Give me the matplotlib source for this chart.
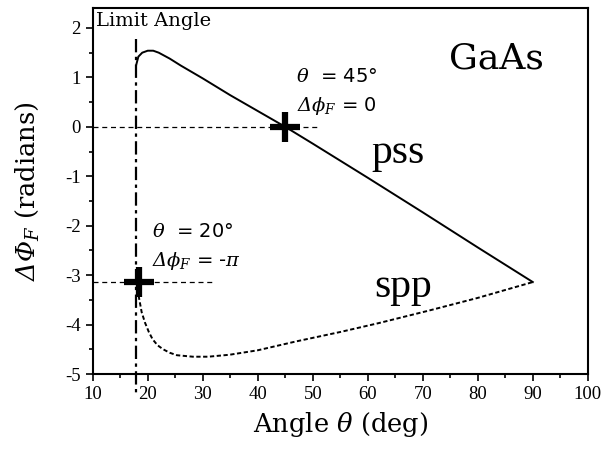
import matplotlib
matplotlib.use("Agg")
import matplotlib.pyplot as plt
from matplotlib.ticker import MultipleLocator

# data
pss_angle = [17.9, 18.3, 19.0, 20.0, 21.0, 22.0, 24.0, 26.0, 28.0, 30.0, 35.0, 40.0, 45.0,
             50.0, 60.0, 70.0, 80.0, 90.0]
pss_phase = [1.25, 1.42, 1.50, 1.54, 1.54, 1.50, 1.38, 1.24, 1.11, 0.98, 0.64, 0.32, 0.0,
             -0.34, -1.03, -1.73, -2.44, -3.14]

spp_angle = [18.15, 18.4, 18.9, 19.5, 20.2, 20.9, 21.8, 22.8, 24.0, 25.3, 28.2, 31.0, 34.9,
             40.0, 47.0, 55.0, 62.0, 71.0, 80.0, 90.0]
spp_phase = [-3.14, -3.45, -3.75, -3.96, -4.15, -4.30, -4.42, -4.50, -4.57, -4.62, -4.65,
             -4.65, -4.61, -4.52, -4.34, -4.15, -3.97, -3.72, -3.46, -3.14]

limit_angle = 17.9
cross_pts_x = [45.0, 18.45]
cross_pts_y = [0.0, -3.14]

xticks = [10, 20, 30, 40, 50, 60, 70, 80, 90, 100]
yticks = [-5, -4, -3, -2, -1, 0, 1, 2]

plt.rcParams['axes.unicode_minus'] = False
# italic greek capitals (mathtext keeps them upright otherwise)
plt.rcParams['mathtext.fontset'] = 'custom'
plt.rcParams['mathtext.rm'] = 'DejaVu Serif:italic'
plt.rcParams['mathtext.it'] = 'DejaVu Serif:italic'

fig = plt.figure(figsize=(6.06, 4.55), dpi=100)
ax = fig.add_axes([0.153, 0.178, 0.817, 0.804])

ax.plot(pss_angle, pss_phase, 'k-', lw=1.4)
ax.plot(spp_angle, spp_phase, color='k', ls=(0, (2.2, 1.3)), lw=1.4)

# reference lines
ax.plot([10, 50.7], [0, 0], 'k--', lw=0.9, dashes=(4, 3))
ax.plot([10, 31.9], [-3.14, -3.14], 'k--', lw=0.9, dashes=(4, 3))
ax.plot([limit_angle, limit_angle], [1.77, -5.45], color='k', lw=1.6,
        ls=(0, (6, 2, 1.5, 2)), clip_on=False)

ax.plot(cross_pts_x, cross_pts_y, 'k+', ms=22, mew=4.5)

ax.set_xlim(10, 100)
ax.set_ylim(-5, 2.4)
ax.set_xticks(xticks)
ax.set_yticks(yticks)
ax.xaxis.set_minor_locator(MultipleLocator(5))
ax.yaxis.set_minor_locator(MultipleLocator(0.5))
ax.tick_params(which='major', direction='out', length=5, width=1.2)
ax.tick_params(which='minor', direction='out', length=3, width=1.2)
for lbl in ax.get_xticklabels() + ax.get_yticklabels():
    lbl.set_family('Liberation Serif')
    lbl.set_fontsize(13.5)
for sp in ax.spines.values():
    sp.set_linewidth(1.5)

ax.set_xlabel(r'Angle $\theta$ (deg)', family='DejaVu Serif', fontsize=18.5, labelpad=5)
ax.set_ylabel(r'$\Delta\Phi_F$ (radians)', family='DejaVu Serif', fontsize=18.5)
ax.yaxis.set_label_coords(-0.105, 0.50)

ax.text(10.6, 2.33, 'Limit Angle', family='DejaVu Serif', fontsize=14, va='top')
ax.text(83.4, 1.17, 'GaAs', family='DejaVu Serif', fontsize=26, ha='center', va='baseline')
ax.text(60.7, -0.727, 'pss', family='Liberation Serif', fontsize=30, va='baseline')
ax.text(61.2, -3.434, 'spp', family='Liberation Serif', fontsize=30, va='baseline')

ax.text(47.0, 1.02, r'$\theta$  = 45°', family='DejaVu Sans', fontsize=14, va='center')
ax.text(47.2, 0.42, r'$\Delta\phi_F$ = 0', family='DejaVu Sans', fontsize=14, va='center')
ax.text(20.8, -2.12, r'$\theta$  = 20°', family='DejaVu Sans', fontsize=14, va='center')
ax.text(20.8, -2.72, r'$\Delta\phi_F$ = -$\pi$', family='DejaVu Sans',
        fontsize=14, va='center')

fig.savefig('out.png', dpi=100)
